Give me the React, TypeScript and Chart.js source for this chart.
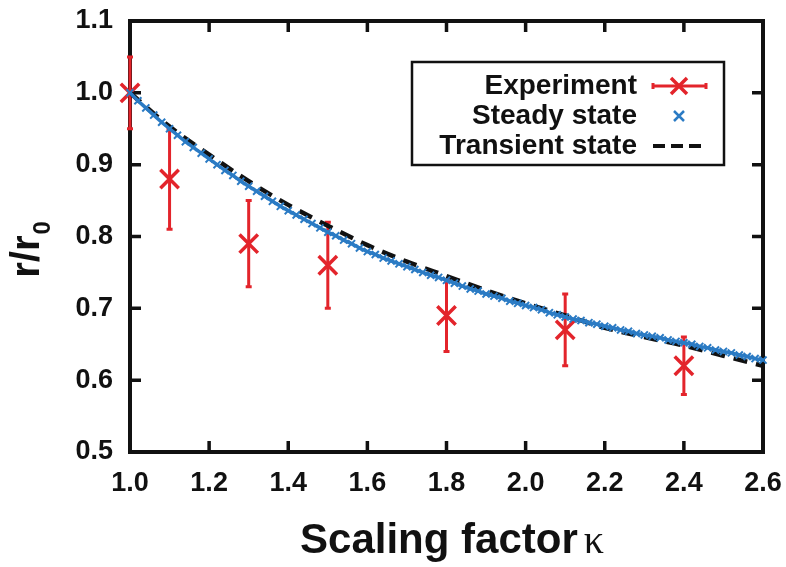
import React, { useEffect, useRef } from "react";
import { Chart, registerables } from "chart.js";

Chart.register(...registerables);

// Experiment (red crosses with error bars)
const expKappa = [1.0, 1.1, 1.3, 1.5, 1.8, 2.1, 2.4];
const expRatio = [1.0, 0.88, 0.79, 0.76, 0.69, 0.67, 0.62];
const expError = [0.05, 0.07, 0.06, 0.06, 0.05, 0.05, 0.04];

// Steady state (dense blue crosses)
const steadyKappa = [
  1.0, 1.02, 1.04, 1.06, 1.08, 1.1, 1.12, 1.14, 1.16, 1.18,
  1.2, 1.22, 1.24, 1.26, 1.28, 1.3, 1.32, 1.34, 1.36, 1.38,
  1.4, 1.42, 1.44, 1.46, 1.48, 1.5, 1.52, 1.54, 1.56, 1.58,
  1.6, 1.62, 1.64, 1.66, 1.68, 1.7, 1.72, 1.74, 1.76, 1.78,
  1.8, 1.82, 1.84, 1.86, 1.88, 1.9, 1.92, 1.94, 1.96, 1.98,
  2.0, 2.02, 2.04, 2.06, 2.08, 2.1, 2.12, 2.14, 2.16, 2.18,
  2.2, 2.22, 2.24, 2.26, 2.28, 2.3, 2.32, 2.34, 2.36, 2.38,
  2.4, 2.42, 2.44, 2.46, 2.48, 2.5, 2.52, 2.54, 2.56, 2.58,
  2.6,
];
const steadyRatio = [
  1.0, 0.989, 0.979, 0.969, 0.959, 0.95, 0.941, 0.932, 0.924, 0.916,
  0.908, 0.9, 0.892, 0.885, 0.877, 0.87, 0.863, 0.856, 0.849, 0.842,
  0.836, 0.83, 0.824, 0.818, 0.812, 0.806, 0.801, 0.795, 0.79, 0.784,
  0.779, 0.775, 0.77, 0.766, 0.762, 0.758, 0.754, 0.75, 0.746, 0.743,
  0.739, 0.735, 0.731, 0.727, 0.724, 0.72, 0.717, 0.714, 0.71, 0.707,
  0.704, 0.701, 0.698, 0.694, 0.691, 0.688, 0.685, 0.683, 0.68, 0.678,
  0.675, 0.673, 0.67, 0.668, 0.665, 0.663, 0.661, 0.659, 0.656, 0.654,
  0.652, 0.65, 0.647, 0.645, 0.642, 0.64, 0.638, 0.635, 0.633, 0.63,
  0.628,
];

// Transient state (black dashed)
const transientKappa = [1.0, 1.1, 1.2, 1.3, 1.4, 1.5, 1.6, 1.7, 1.8, 1.9, 2.0, 2.1, 2.2, 2.3, 2.4, 2.5, 2.6];
const transientRatio = [1.0, 0.953, 0.914, 0.877, 0.844, 0.815, 0.788, 0.765, 0.745, 0.725, 0.707, 0.69, 0.673, 0.66, 0.648, 0.634, 0.62];

const xTicks = [1.0, 1.2, 1.4, 1.6, 1.8, 2.0, 2.2, 2.4, 2.6];
const yTicks = [0.5, 0.6, 0.7, 0.8, 0.9, 1.0, 1.1];

const legendLabels = ["Experiment", "Steady state", "Transient state"];
const xTitle = "Scaling factor";
const xTitleSymbol = "κ";
const yTitleMain = "r/r";
const yTitleSub = "0";

const RED = "#e3242b";
const BLUE = "#2b7bc4";
const BLACK = "#111111";
const SANS = '"Liberation Sans", Arial, Helvetica, sans-serif';
const SERIF = '"Liberation Serif", "Times New Roman", serif';

const W = 786;
const H = 567;
const TARGET = { left: 130, top: 21, right: 763, bottom: 452 };

const zeroPadding = (s: any) => {
  s.paddingTop = 0;
  s.paddingBottom = 0;
  s.paddingLeft = 0;
  s.paddingRight = 0;
};

const decorPlugin = {
  id: "decor",
  beforeDatasetsDraw(chart: any) {
    const { ctx, chartArea: a, scales } = chart;
    const xs = scales.x;
    const ys = scales.y;
    ctx.save();
    // frame
    ctx.strokeStyle = BLACK;
    ctx.lineWidth = 4;
    ctx.strokeRect(a.left, a.top, a.right - a.left, a.bottom - a.top);
    // inward ticks
    ctx.lineWidth = 3.5;
    const tl = 11;
    ctx.beginPath();
    xTicks.slice(1, -1).forEach((v) => {
      const px = xs.getPixelForValue(v);
      ctx.moveTo(px, a.bottom);
      ctx.lineTo(px, a.bottom - tl);
      ctx.moveTo(px, a.top);
      ctx.lineTo(px, a.top + tl);
    });
    yTicks.slice(1, -1).forEach((v) => {
      const py = ys.getPixelForValue(v);
      ctx.moveTo(a.left, py);
      ctx.lineTo(a.left + tl, py);
      ctx.moveTo(a.right, py);
      ctx.lineTo(a.right - tl, py);
    });
    ctx.stroke();
    // error bars
    ctx.strokeStyle = RED;
    ctx.lineWidth = 3;
    ctx.beginPath();
    expKappa.forEach((k, i) => {
      const px = xs.getPixelForValue(k);
      const top = ys.getPixelForValue(expRatio[i] + expError[i]);
      const bot = ys.getPixelForValue(expRatio[i] - expError[i]);
      ctx.moveTo(px, top);
      ctx.lineTo(px, bot);
      ctx.moveTo(px - 3, top);
      ctx.lineTo(px + 3, top);
      ctx.moveTo(px - 3, bot);
      ctx.lineTo(px + 3, bot);
    });
    ctx.stroke();
    ctx.restore();
  },
  afterDraw(chart: any) {
    const { ctx } = chart;
    ctx.save();
    // x title
    const mainFont = "bold 42px " + SANS;
    const symFont = "40px " + SERIF;
    const gap = 6;
    ctx.font = mainFont;
    const w1 = ctx.measureText(xTitle).width;
    ctx.font = symFont;
    const w2 = ctx.measureText(xTitleSymbol).width;
    const cx = 452;
    const startX = cx - (w1 + gap + w2) / 2;
    ctx.fillStyle = BLACK;
    ctx.textBaseline = "alphabetic";
    ctx.textAlign = "left";
    ctx.font = mainFont;
    ctx.fillText(xTitle, startX, 553);
    ctx.font = symFont;
    ctx.fillText(xTitleSymbol, startX + w1 + gap, 553);

    // y title (rotated)
    ctx.save();
    ctx.translate(39, 250);
    ctx.rotate(-Math.PI / 2);
    const yMain = "bold 40px " + SANS;
    const ySub = "bold 24px " + SANS;
    ctx.font = yMain;
    const m1 = ctx.measureText(yTitleMain).width;
    ctx.font = ySub;
    const m2 = ctx.measureText(yTitleSub).width;
    const sx = -(m1 + m2) / 2;
    ctx.font = yMain;
    ctx.fillText(yTitleMain, sx, 0);
    ctx.font = ySub;
    ctx.fillText(yTitleSub, sx + m1 + 1, 11);
    ctx.restore();

    // legend
    const bx = 412, by = 62, bw = 312, bh = 103;
    ctx.fillStyle = "#ffffff";
    ctx.fillRect(bx, by, bw, bh);
    ctx.strokeStyle = BLACK;
    ctx.lineWidth = 2.5;
    ctx.strokeRect(bx, by, bw, bh);
    ctx.fillStyle = BLACK;
    ctx.font = "bold 28px " + SANS;
    ctx.textAlign = "right";
    ctx.textBaseline = "middle";
    const rows = [86, 116, 146];
    legendLabels.forEach((t, i) => ctx.fillText(t, 637, rows[i]));
    const sx0 = 653, sx1 = 706, scx = 679;
    // experiment symbol
    ctx.strokeStyle = RED;
    ctx.lineWidth = 3;
    ctx.beginPath();
    ctx.moveTo(sx0, rows[0]);
    ctx.lineTo(sx1, rows[0]);
    ctx.moveTo(sx0, rows[0] - 3);
    ctx.lineTo(sx0, rows[0] + 3);
    ctx.moveTo(sx1, rows[0] - 3);
    ctx.lineTo(sx1, rows[0] + 3);
    ctx.stroke();
    ctx.lineWidth = 3.5;
    ctx.beginPath();
    ctx.moveTo(scx - 8, rows[0] - 8);
    ctx.lineTo(scx + 8, rows[0] + 8);
    ctx.moveTo(scx - 8, rows[0] + 8);
    ctx.lineTo(scx + 8, rows[0] - 8);
    ctx.stroke();
    // steady symbol
    ctx.strokeStyle = BLUE;
    ctx.lineWidth = 2.5;
    ctx.beginPath();
    ctx.moveTo(scx - 5, rows[1] - 5);
    ctx.lineTo(scx + 5, rows[1] + 5);
    ctx.moveTo(scx - 5, rows[1] + 5);
    ctx.lineTo(scx + 5, rows[1] - 5);
    ctx.stroke();
    // transient symbol
    ctx.strokeStyle = BLACK;
    ctx.lineWidth = 4;
    ctx.setLineDash([12, 6]);
    ctx.beginPath();
    ctx.moveTo(sx0, rows[2]);
    ctx.lineTo(sx1, rows[2]);
    ctx.stroke();
    ctx.setLineDash([]);
    ctx.restore();
  },
};

export default function App() {
  const ref = useRef<HTMLCanvasElement | null>(null);
  useEffect(() => {
    document.body.style.margin = "0";
    if (!ref.current) return;
    const padding = { left: 0, top: TARGET.top, right: W - TARGET.right, bottom: 0 };
    const chart = new Chart(ref.current, {
      type: "scatter",
      data: {
        datasets: [
          {
            label: legendLabels[1],
            data: steadyKappa.map((k, i) => ({ x: k, y: steadyRatio[i] })),
            showLine: true,
            borderColor: BLUE,
            backgroundColor: BLUE,
            borderWidth: 3.5,
            pointStyle: "crossRot",
            pointRadius: 5,
            pointBorderWidth: 2,
            pointBorderColor: BLUE,
            order: 1,
            clip: false,
          },
          {
            label: legendLabels[2],
            data: transientKappa.map((k, i) => ({ x: k, y: transientRatio[i] })),
            showLine: true,
            borderColor: BLACK,
            borderWidth: 4.5,
            borderDash: [14, 9],
            cubicInterpolationMode: "monotone",
            pointRadius: 0,
            order: 2,
          },
          {
            label: legendLabels[0],
            data: expKappa.map((k, i) => ({ x: k, y: expRatio[i] })),
            showLine: false,
            pointStyle: "crossRot",
            pointRadius: 13,
            pointBorderWidth: 3.5,
            borderColor: RED,
            backgroundColor: RED,
            order: 3,
            clip: false,
          },
        ] as any,
      },
      options: {
        animation: false,
        responsive: false,
        layout: { padding },
        plugins: { legend: { display: false }, tooltip: { enabled: false } },
        scales: {
          x: {
            type: "linear",
            min: 1.0,
            max: 2.6,
            afterFit: (s: any) => {
              s.height = H - TARGET.bottom;
              zeroPadding(s);
            },
            afterBuildTicks: (s: any) => {
              s.ticks = xTicks.map((v) => ({ value: v }));
            },
            grid: { display: false, drawTicks: false },
            border: { display: false },
            ticks: {
              padding: 15,
              color: BLACK,
              font: { family: SANS, size: 27, weight: "bold" },
              callback: (v: any) => Number(v).toFixed(1),
              maxRotation: 0,
            },
          },
          y: {
            type: "linear",
            min: 0.5,
            max: 1.1,
            afterFit: (s: any) => {
              s.width = TARGET.left;
              zeroPadding(s);
            },
            afterBuildTicks: (s: any) => {
              s.ticks = yTicks.map((v) => ({ value: v }));
            },
            grid: { display: false, drawTicks: false },
            border: { display: false },
            ticks: {
              padding: 17,
              color: BLACK,
              font: { family: SANS, size: 27, weight: "bold" },
              callback: (v: any) => Number(v).toFixed(1),
            },
          },
        },
      } as any,
      plugins: [decorPlugin],
    });
    return () => chart.destroy();
  }, []);
  return (
    <div style={{ width: W, height: H }}>
      <canvas ref={ref} width={W} height={H} style={{ display: "block" }} />
    </div>
  );
}
